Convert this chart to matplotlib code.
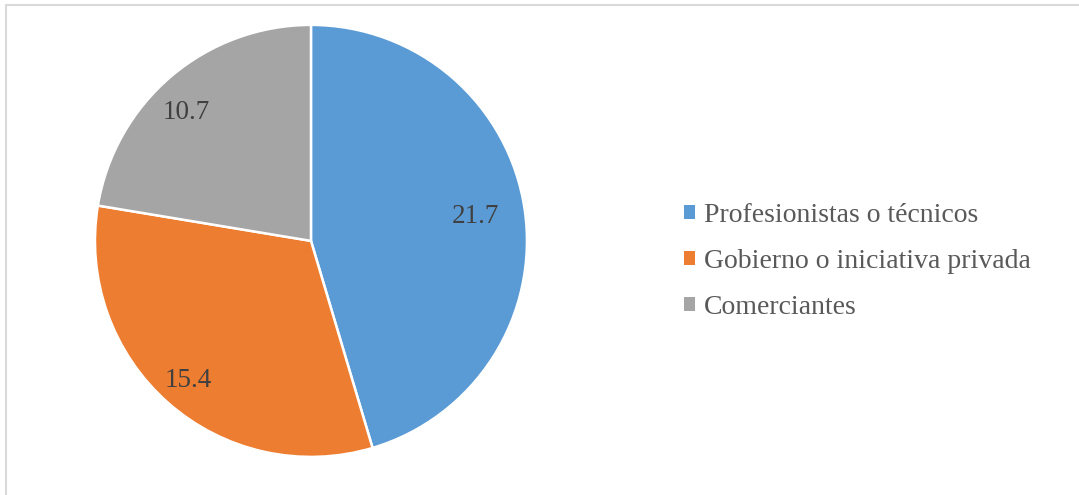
import numpy as np
import matplotlib.pyplot as plt
from matplotlib.patches import Patch, Rectangle

plt.rcParams['font.family'] = ['Liberation Serif', 'DejaVu Serif']

categories = ["Profesionistas o técnicos", "Gobierno o iniciativa privada", "Comerciantes"]
values = [21.7, 15.4, 10.7]
colors = ["#5B9BD5", "#ED7D31", "#A5A5A5"]

fig = plt.figure(figsize=(10.79, 4.95), dpi=100)

# light chart border (right/bottom edges fall outside the image)
fig.patches.append(Rectangle((6 / 1079, -0.1), 1.2, 1 - 5 / 495 + 0.1,
                             transform=fig.transFigure, fill=False,
                             edgecolor="#d9d9d9", linewidth=1.5))

ax = fig.add_axes([0.088, 0.077, 0.4004, 0.8727])
wedges, texts, autotexts = ax.pie(
    values, colors=colors, startangle=90, counterclock=False,
    autopct=lambda p: "%.1f" % (p * sum(values) / 100), pctdistance=0.8,
    wedgeprops=dict(edgecolor="white", linewidth=1.8),
    textprops=dict(fontsize=19.5, color="#404040"))
ax.set_xlim(-1, 1)
ax.set_ylim(-1, 1)
ax.set_aspect("equal")

# nudge labels radially like Excel's best-fit placement
label_dist = [0.77, 0.86, 0.83]
label_shift = [0, 0, 4]  # extra degrees
for w, t, d, s in zip(wedges, autotexts, label_dist, label_shift):
    ang = np.deg2rad((w.theta1 + w.theta2) / 2 + s)
    t.set_position((d * np.cos(ang), d * np.sin(ang)))

handles = [Patch(facecolor=c, edgecolor="none") for c in colors]
fig.legend(handles, categories, loc="center left", bbox_to_anchor=(0.611, 0.472),
           frameon=False, fontsize=20, labelcolor="#595959",
           handlelength=0.37, handleheight=0.37, handletextpad=0.35,
           labelspacing=0.76)

fig.savefig("out.png", dpi=100)
